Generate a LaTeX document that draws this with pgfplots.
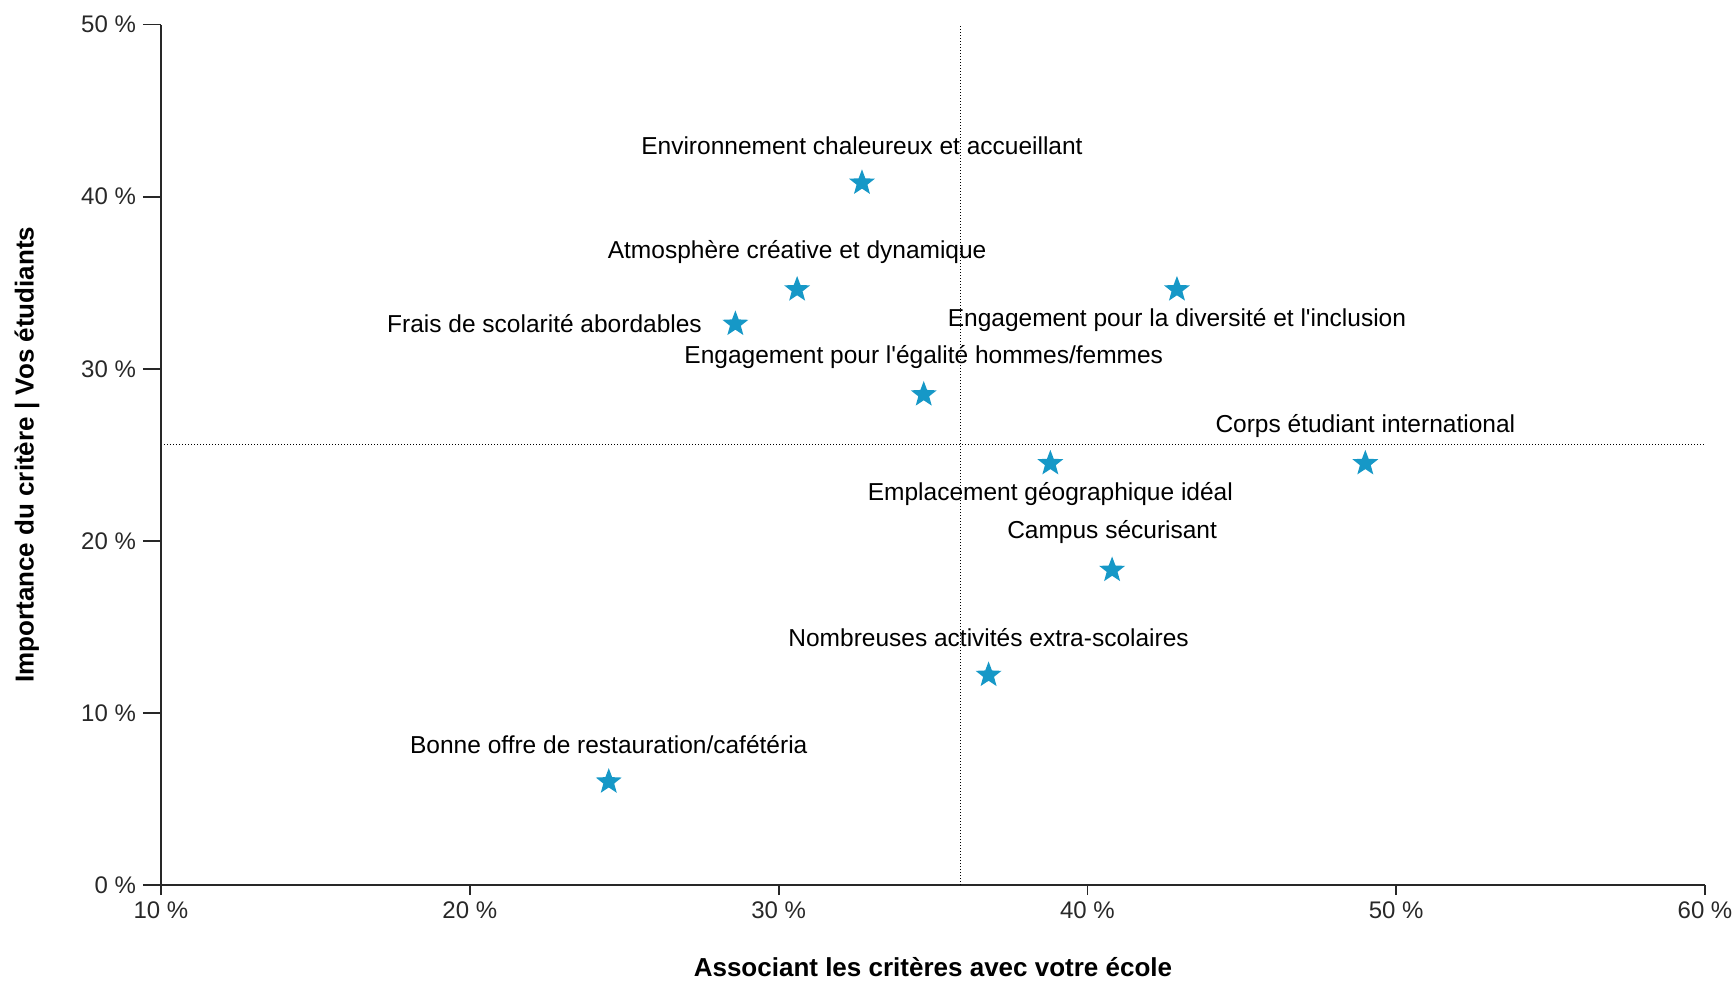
\documentclass[border=0pt]{standalone}
\usepackage{pgfplots}
\pgfplotsset{compat=1.18}
\usepackage{pgfplotstable}
\usepackage{fontspec}
\setmainfont{Liberation Sans}
\definecolor{starblue}{RGB}{22,152,199}
\definecolor{axisgray}{RGB}{40,40,40}
\tikzset{lbl/.style={text=black, font=\fontsize{12.25}{14}\selectfont, inner sep=0pt}}
\pgfdeclareplotmark{fstar}{%
  \pgfpathmoveto{\pgfpointpolar{90}{\pgfplotmarksize}}%
  \pgfpathlineto{\pgfpointpolar{126}{0.42\pgfplotmarksize}}%
  \pgfpathlineto{\pgfpointpolar{162}{\pgfplotmarksize}}%
  \pgfpathlineto{\pgfpointpolar{198}{0.42\pgfplotmarksize}}%
  \pgfpathlineto{\pgfpointpolar{234}{\pgfplotmarksize}}%
  \pgfpathlineto{\pgfpointpolar{270}{0.42\pgfplotmarksize}}%
  \pgfpathlineto{\pgfpointpolar{306}{\pgfplotmarksize}}%
  \pgfpathlineto{\pgfpointpolar{342}{0.42\pgfplotmarksize}}%
  \pgfpathlineto{\pgfpointpolar{18}{\pgfplotmarksize}}%
  \pgfpathlineto{\pgfpointpolar{54}{0.42\pgfplotmarksize}}%
  \pgfpathclose
  \pgfusepathqfill
}
% labels above the star
\pgfplotstableread[col sep=comma]{
x,y,label
32.7,40.8,Environnement chaleureux et accueillant
30.6,34.6,Atmosphère créative et dynamique
34.7,28.5,Engagement pour l\textquotesingle égalité hommes/femmes
49.0,24.5,Corps étudiant international
40.8,18.3,Campus sécurisant
36.8,12.2,Nombreuses activités extra-scolaires
24.5,6.0,Bonne offre de restauration/cafétéria
}\abovetable
% labels below the star
\pgfplotstableread[col sep=comma]{
x,y,label
42.9,34.6,Engagement pour la diversité et l\textquotesingle inclusion
38.8,24.5,Emplacement géographique idéal
}\belowtable
% label left of the star
\pgfplotstableread[col sep=comma]{
x,y,label
28.6,32.6,Frais de scolarité abordables
}\lefttable
\begin{document}
\begin{tikzpicture}
\begin{axis}[
  at={(0,0)}, anchor=south west,
  scale only axis, width=772pt, height=430.2pt,
  xmin=10, xmax=60, ymin=0, ymax=50,
  axis x line=bottom, axis y line=left,
  axis line style={-, draw=axisgray, line width=0.9pt},
  xtick={10,20,30,40,50,60},
  xticklabels={10 \%,20 \%,30 \%,40 \%,50 \%,60 \%},
  ytick=\empty,
  tick align=outside, major tick length=5pt,
  tick style={draw=axisgray, line width=0.9pt},
  xticklabel style={font=\fontsize{12}{14}\selectfont, text=axisgray},
  clip=false,
  starplot/.style={only marks, mark=fstar, mark size=6.8pt, color=starblue,
    point meta=explicit symbolic, nodes near coords},
]
\addplot[black, line width=0.6pt, dash pattern=on 0.5pt off 1pt] coordinates {(35.9,0) (35.9,50)};
\addplot[black, line width=0.6pt, dash pattern=on 0.5pt off 1pt] coordinates {(10,25.6) (60,25.6)};
\addplot[starplot, every node near coord/.append style={lbl, anchor=center, yshift=18.8pt}]
  table[x=x, y=y, meta=label] {\abovetable};
\addplot[starplot, every node near coord/.append style={lbl, anchor=center, yshift=-15.2pt}]
  table[x=x, y=y, meta=label] {\belowtable};
\addplot[starplot, every node near coord/.append style={lbl, anchor=east, xshift=-16.6pt}]
  table[x=x, y=y, meta=label] {\lefttable};
\end{axis}
\begin{axis}[
  at={(0,0)}, anchor=south west,
  scale only axis, width=772pt, height=430.2pt,
  xmin=10, xmax=60, ymin=0, ymax=50,
  axis x line=none, axis y line=left,
  axis line style={-, draw=axisgray, line width=0.9pt},
  xtick=\empty,
  ytick={0,10,20,30,40,50},
  yticklabels={0 \%,10 \%,20 \%,30 \%,40 \%,50 \%},
  tick align=outside, major tick length=9pt,
  tick style={draw=axisgray, line width=0.9pt},
  yticklabel style={font=\fontsize{12}{14}\selectfont, text=axisgray},
]
\end{axis}
\node[font=\bfseries\fontsize{13}{15}\selectfont] at (386pt,-41pt) {Associant les critères avec votre école};
\node[rotate=90, font=\bfseries\fontsize{13}{15}\selectfont] at (-67pt,215.1pt) {Importance du critère | Vos étudiants};
\pgfresetboundingbox
\path[use as bounding box] (-80.5pt,-48.5pt) rectangle (786.5pt,442.5pt);
\end{tikzpicture}
\end{document}
